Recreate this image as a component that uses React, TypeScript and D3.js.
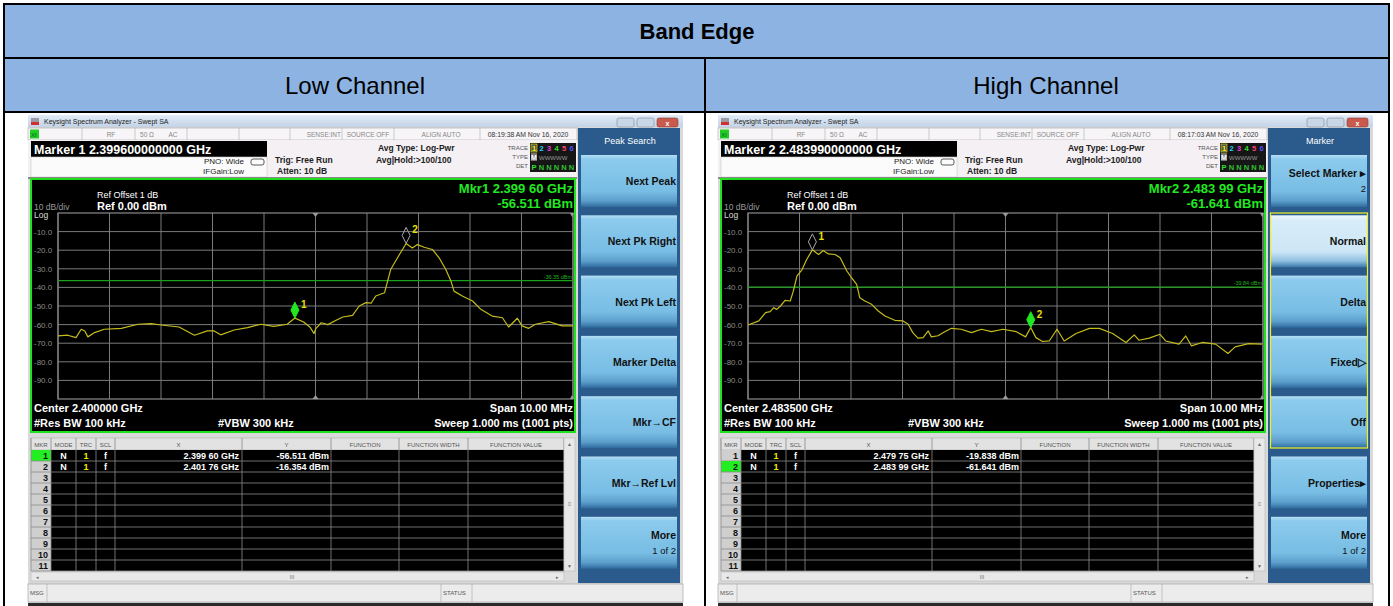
import React from 'react';
import * as d3 from 'd3';

const FONT = "'Liberation Sans', Arial, Helvetica, sans-serif";

// trace samples: [offset from centre in MHz, level in dBm]
const lowTrace: [number, number][] = [
  [-5.0, -66.1], [-4.81, -65.7], [-4.65, -67.0], [-4.55, -62.5], [-4.48, -63.4], [-4.42, -66.6],
  [-4.29, -64.3], [-4.1, -62.5], [-3.77, -62.0], [-3.45, -59.8], [-3.19, -59.5], [-3.0, -60.2],
  [-2.65, -61.3], [-2.35, -65.7], [-2.1, -63.4], [-1.97, -63.4], [-1.84, -65.5], [-1.58, -62.9],
  [-1.32, -61.6], [-1.06, -59.8], [-0.81, -61.0], [-0.55, -59.8], [-0.4, -56.5], [-0.23, -58.6],
  [-0.1, -61.6], [-0.03, -64.8], [0.01, -62], [0.11, -59], [0.24, -60], [0.4, -57.7], [0.53, -55.9],
  [0.72, -55.0], [0.85, -50], [0.98, -48.2], [1.08, -48.5], [1.17, -44.6], [1.34, -42.9], [1.4, -36.6],
  [1.46, -30.4], [1.63, -22.3], [1.76, -16.4], [1.88, -18.8], [1.98, -17.0], [2.11, -18.4], [2.27, -19.6],
  [2.4, -24.1], [2.53, -30.4], [2.63, -36.6], [2.69, -42], [2.85, -44.6], [3.05, -47.3], [3.21, -51.8],
  [3.43, -55.4], [3.63, -56.3], [3.75, -61.3], [3.92, -56.6], [4.01, -60.7], [4.14, -62], [4.27, -59.8],
  [4.53, -58.4], [4.79, -60.7], [5.0, -60.7],
];

const highTrace: [number, number][] = [
  [-5.0, -60.2], [-4.79, -58], [-4.66, -53.6], [-4.57, -53], [-4.5, -50.9], [-4.44, -51.8], [-4.37, -50],
  [-4.28, -47], [-4.18, -47.3], [-4.12, -42], [-4.05, -33.9], [-3.95, -30.4], [-3.86, -25], [-3.75, -19.8],
  [-3.63, -22.3], [-3.54, -20.2], [-3.44, -22], [-3.31, -22.3], [-3.21, -24.1], [-3.08, -31.2], [-2.99, -34.8],
  [-2.89, -38.4], [-2.83, -45.5], [-2.73, -47.3], [-2.6, -49.1], [-2.47, -52.7], [-2.34, -55.4], [-2.15, -57.7],
  [-1.99, -58], [-1.89, -59.8], [-1.8, -64.3], [-1.7, -67.3], [-1.6, -67], [-1.5, -63.4], [-1.44, -66.6],
  [-1.31, -66], [-1.18, -63.8], [-1.05, -62], [-0.86, -62.5], [-0.66, -64.3], [-0.47, -62.5], [-0.27, -63.8],
  [-0.05, -62.5], [0.21, -63.8], [0.39, -66.6], [0.49, -61.6], [0.59, -67], [0.72, -69.1], [0.85, -68.8],
  [1.0, -62.5], [1.14, -68.8], [1.37, -64.8], [1.63, -62], [1.82, -62], [2.08, -64.8], [2.34, -69.6],
  [2.5, -65.5], [2.59, -68.4], [2.79, -67.3], [3.0, -65.2], [3.11, -68.8], [3.37, -70.5], [3.5, -66.1],
  [3.61, -71.4], [3.82, -69.6], [4.08, -70.5], [4.32, -75.5], [4.46, -72], [4.72, -70.2], [4.98, -70.5],
];

const dbTicks = [-10, -20, -30, -40, -50, -60, -70, -80, -90];
const freqDivs = [-5, -4, -3, -2, -1, 0, 1, 2, 3, 4, 5];

const lowMarkerOffsets = [-0.4, 1.76];
const lowMarkerLevels = [-56.511, -16.354];
const lowMarkerX = ['2.399 60 GHz', '2.401 76 GHz'];
const lowMarkerY = ['-56.511 dBm', '-16.354 dBm'];

const highMarkerOffsets = [-3.75, 0.49];
const highMarkerLevels = [-19.838, -61.641];
const highMarkerX = ['2.479 75 GHz', '2.483 99 GHz'];
const highMarkerY = ['-19.838 dBm', '-61.641 dBm'];

const tableHeaders = ['MKR', 'MODE', 'TRC', 'SCL', 'X', 'Y', 'FUNCTION', 'FUNCTION WIDTH', 'FUNCTION VALUE'];
const tableRows = [1, 2, 3, 4, 5, 6, 7, 8, 9, 10, 11];

const lowSoftkeys = [['Next Peak'], ['Next Pk Right'], ['Next Pk Left'], ['Marker Delta'], ['Mkr\u2192CF'], ['Mkr\u2192Ref Lvl'], ['More', '1 of 2']];
const highSoftkeys = [['Select Marker \u25B8', '2'], ['Normal'], ['Delta'], ['Fixed\u25B7'], ['Off'], ['Properties\u25B8'], ['More', '1 of 2']];

const traceDigits = ['1', '2', '3', '4', '5', '6'];
const traceDigitColors = ['#f4f000', '#22d0ff', '#e040e0', '#30e030', '#ff4070', '#5050ff'];

const colEdges = [31, 51, 76, 96, 115, 242, 331, 399, 468, 564];

interface ScreenProps {
  dx: number;
  clock: string;
  markerTitle: string;
  mkrLabel: string;
  mkrLevel: string;
  centerLabel: string;
  displayLine: number;
  trace: [number, number][];
  markerOffsets: number[];
  markerLevels: number[];
  markerX: string[];
  markerY: string[];
  active: number;
  menuTitle: string;
  softkeys: string[][];
  selectedKey: number;
  groupBox: boolean;
}

function Screen(p: ScreenProps) {
  const x = d3.scaleLinear().domain([-5, 5]).range([58, 573]);
  const y = d3.scaleLinear().domain([-100, 0]).range([399, 213]);
  const line = d3.line<[number, number]>().x(d => x(d[0])).y(d => y(d[1]));
  const rowY = (i: number) => 450 + 11 * i;

  return (
    <g transform={`translate(${p.dx},0)`} fontFamily={FONT}>
      {/* window frame */}
      <rect x={28} y={115} width={655} height={491} fill="#d9d9d9" />
      <rect x={28} y={115} width={655} height={12} fill="url(#titlebar)" />
      <rect x={31} y={118} width={8} height={7} fill="#9a9aa0" />
      <rect x={31} y={122} width={8} height={3} fill="#d03030" />
      <text x={44} y={124} fontSize={7} fill="#222">Keysight Spectrum Analyzer - Swept SA</text>
      <rect x={617} y={118} width={17} height={9} rx={2} fill="#c9d6e6" stroke="#7b8ca3" strokeWidth={0.6} />
      <rect x={637} y={118} width={17} height={9} rx={2} fill="#c9d6e6" stroke="#7b8ca3" strokeWidth={0.6} />
      <rect x={657} y={118} width={21} height={9} rx={2} fill="#c85a4e" stroke="#8c3a30" strokeWidth={0.6} />
      <text x={667.5} y={125.5} fontSize={7} fill="#fff" textAnchor="middle" fontWeight="bold">x</text>

      {/* status line */}
      <rect x={28} y={128} width={549} height={12} fill="#f7f5f7" stroke="#a8a8a8" strokeWidth={0.6} />
      <rect x={30} y={129.5} width={9} height={9} fill="#22cc22" />
      <text x={31} y={137} fontSize={6} fill="#063">XI</text>
      {[82, 135, 187, 239, 290, 342, 394, 480].map(v => (
        <line key={v} x1={v} x2={v} y1={128} y2={140} stroke="#b0b0b0" strokeWidth={0.6} />
      ))}
      <text x={111} y={137} fontSize={6.5} fill="#888" textAnchor="middle">RF</text>
      <text x={147} y={137} fontSize={6.5} fill="#888" textAnchor="middle">50 Ω</text>
      <text x={173} y={137} fontSize={6.5} fill="#888" textAnchor="middle">AC</text>
      <text x={341} y={137} fontSize={6.5} fill="#888" textAnchor="end">SENSE:INT</text>
      <text x={368} y={137} fontSize={6.5} fill="#888" textAnchor="middle">SOURCE OFF</text>
      <text x={441} y={137} fontSize={6.5} fill="#888" textAnchor="middle">ALIGN AUTO</text>
      <text x={528} y={137} fontSize={6.8} fill="#333" textAnchor="middle">{p.clock}</text>

      {/* settings block */}
      <rect x={28} y={140} width={549} height={38} fill="#f4f0f4" />
      <rect x={31} y={141} width={236} height={16} fill="#000" />
      <text x={34} y={154} fontSize={12.5} fontWeight="bold" fill="#fff">{p.markerTitle}</text>
      <rect x={31} y={157} width={236} height={20} fill="#fbfbfb" stroke="#c8c8c8" strokeWidth={0.6} />
      <text x={244} y={164} fontSize={8} fill="#222" textAnchor="end">PNO: Wide</text>
      <text x={244} y={174} fontSize={8} fill="#222" textAnchor="end">IFGain:Low</text>
      <rect x={251} y={159} width={13} height={6} rx={2} fill="none" stroke="#333" strokeWidth={0.8} />
      <text x={275} y={163} fontSize={8.5} fontWeight="bold" fill="#222">Trig: Free Run</text>
      <text x={277} y={174} fontSize={8.5} fontWeight="bold" fill="#222">Atten: 10 dB</text>
      <text x={378} y={151} fontSize={8.5} fontWeight="bold" fill="#222">Avg Type: Log-Pwr</text>
      <text x={376} y={163} fontSize={8.5} fontWeight="bold" fill="#222">Avg|Hold:&gt;100/100</text>
      <text x={528} y={150} fontSize={6} fill="#555" textAnchor="end">TRACE</text>
      <text x={528} y={159} fontSize={6} fill="#555" textAnchor="end">TYPE</text>
      <text x={528} y={168} fontSize={6} fill="#555" textAnchor="end">DET</text>
      <rect x={530} y={143} width={46} height={29} fill="#161616" />
      <rect x={531} y={144} width={6} height={8} fill="#555" stroke="#f4f000" strokeWidth={0.6} />
      {traceDigits.map((d, i) => (
        <text key={d} x={534 + i * 7.5} y={151} fontSize={7.5} fontWeight="bold" fill={traceDigitColors[i]} textAnchor="middle">{d}</text>
      ))}
      <rect x={531} y={153} width={6} height={8} fill="#777" />
      <text x={534} y={160} fontSize={7} fontWeight="bold" fill="#fff" textAnchor="middle">M</text>
      <text x={539} y={160} fontSize={6} fill="#999">WWWWW</text>
      <text x={534} y={170} fontSize={7.5} fontWeight="bold" fill="#30e030" textAnchor="middle">P</text>
      {[1, 2, 3, 4, 5].map(i => (
        <text key={i} x={534 + i * 7.5} y={170} fontSize={7.5} fontWeight="bold" fill="#30c030" textAnchor="middle">N</text>
      ))}

      {/* graticule display */}
      <rect x={28} y={177} width={549} height={2} fill="#8a8a8a" />
      <rect x={31} y={179} width={544} height={253} fill="#000" stroke="#1ee01e" strokeWidth={2} />
      <text x={97} y={198} fontSize={9} fill="#fff">Ref Offset 1 dB</text>
      <text x={97} y={210} fontSize={11} fontWeight="bold" fill="#fff">Ref 0.00 dBm</text>
      <text x={34} y={210} fontSize={8.5} fill="#9a9a9a">10 dB/div</text>
      <text x={34} y={218} fontSize={8.5} fill="#ddd">Log</text>
      <text x={573} y={193} fontSize={13} fontWeight="bold" fill="#22e822" textAnchor="end">{p.mkrLabel}</text>
      <text x={573} y={208} fontSize={13} fontWeight="bold" fill="#22e822" textAnchor="end">{p.mkrLevel}</text>

      {dbTicks.map(t => (
        <g key={t}>
          <line x1={x(-5)} x2={x(5)} y1={y(t)} y2={y(t)} stroke="#7a7a7a" strokeWidth={1} />
          <text x={34} y={y(t) + 3} fontSize={8} fill="#8c8c8c">{t.toFixed(1)}</text>
        </g>
      ))}
      {freqDivs.map(f => (
        <line key={f} x1={x(f)} x2={x(f)} y1={y(0)} y2={y(-100)} stroke="#7a7a7a" strokeWidth={1} />
      ))}
      <rect x={x(-5)} y={y(0)} width={x(5) - x(-5)} height={y(-100) - y(0)} fill="none" stroke="#8a8a8a" strokeWidth={1.2} />
      <path d={`M${x(0) - 3},${y(0)}L${x(0) + 3},${y(0)}L${x(0)},${y(0) + 4}Z`} fill="#9a9a9a" />
      <path d={`M${x(0) - 3},${y(-100)}L${x(0) + 3},${y(-100)}L${x(0)},${y(-100) - 4}Z`} fill="#9a9a9a" />
      <path d={`M${x(5) - 3},${y(0)}L${x(5) + 1},${y(0)}L${x(5) - 1},${y(0) + 4}Z`} fill="#9a9a9a" />
      <path d={`M${x(5) - 3},${y(-100)}L${x(5) + 1},${y(-100)}L${x(5) - 1},${y(-100) - 4}Z`} fill="#9a9a9a" />

      <line x1={x(-5)} x2={x(5)} y1={y(p.displayLine)} y2={y(p.displayLine)} stroke="#1aa01a" strokeWidth={1.2} />
      <text x={572} y={y(p.displayLine) - 2} fontSize={5.5} fill="#20b020" textAnchor="end">{`${p.displayLine.toFixed(2)} dBm`}</text>

      <path d={line(p.trace) || ''} fill="none" stroke="#c4bc1c" strokeWidth={1.2} strokeLinejoin="round" />

      {p.markerOffsets.map((f, i) => {
        const mx = x(f);
        const my = y(p.markerLevels[i]);
        const isActive = i === p.active;
        return (
          <g key={i}>
            <path d={`M${mx},${my}L${mx - 4},${my - 8}L${mx},${my - 16}L${mx + 4},${my - 8}Z`}
              fill={isActive ? '#22e822' : 'none'} stroke={isActive ? '#22e822' : '#a8a8a8'} strokeWidth={1} />
            <text x={mx + 6} y={my - 10} fontSize={10} fontWeight="bold" fill="#e8e000">{i + 1}</text>
          </g>
        );
      })}

      <text x={34} y={412} fontSize={11} fontWeight="bold" fill="#fff">{p.centerLabel}</text>
      <text x={34} y={427} fontSize={11} fontWeight="bold" fill="#fff">#Res BW 100 kHz</text>
      <text x={218} y={427} fontSize={11} fontWeight="bold" fill="#fff">#VBW 300 kHz</text>
      <text x={573} y={412} fontSize={11} fontWeight="bold" fill="#fff" textAnchor="end">Span 10.00 MHz</text>
      <text x={573} y={427} fontSize={11} fontWeight="bold" fill="#fff" textAnchor="end">Sweep  1.000 ms (1001 pts)</text>

      {/* marker table */}
      <rect x={31} y={438} width={533} height={12} fill="#e2e2e2" stroke="#b0b0b0" strokeWidth={0.6} />
      {tableHeaders.map((h, i) => (
        <text key={h} x={(colEdges[i] + colEdges[i + 1]) / 2} y={446.5} fontSize={6} fill="#555" textAnchor="middle">{h}</text>
      ))}
      <rect x={31} y={450} width={533} height={121} fill="#000" />
      <rect x={31} y={450} width={20} height={121} fill="#cfcfcf" />
      {tableRows.map((r, i) => (
        <g key={r}>
          {i === p.active && <rect x={31} y={rowY(i)} width={20} height={11} fill="#22ee22" />}
          <line x1={31} x2={564} y1={rowY(i) + 11} y2={rowY(i) + 11} stroke="#8a8a8a" strokeWidth={0.8} />
          <text x={48} y={rowY(i) + 9} fontSize={9} fontWeight="bold" fill="#111" textAnchor="end">{r}</text>
        </g>
      ))}
      {colEdges.map(c => (
        <line key={c} x1={c} x2={c} y1={438} y2={571} stroke="#8a8a8a" strokeWidth={0.8} />
      ))}
      {p.markerX.map((v, i) => (
        <g key={i} fontSize={9} fontWeight="bold">
          <text x={63.5} y={rowY(i) + 9} fill="#fff" textAnchor="middle">N</text>
          <text x={86} y={rowY(i) + 9} fill="#f0e800" textAnchor="middle">1</text>
          <text x={105.5} y={rowY(i) + 9} fill="#fff" textAnchor="middle">f</text>
          <text x={239} y={rowY(i) + 9} fill="#fff" textAnchor="end">{v}</text>
          <text x={329} y={rowY(i) + 9} fill="#fff" textAnchor="end">{p.markerY[i]}</text>
        </g>
      ))}
      <rect x={564} y={438} width={11} height={133} fill="#e8e8e8" stroke="#b8b8b8" strokeWidth={0.6} />
      <text x={569.5} y={446} fontSize={5} fill="#666" textAnchor="middle">▲</text>
      <text x={569.5} y={506} fontSize={6} fill="#888" textAnchor="middle">≡</text>
      <text x={569.5} y={568} fontSize={5} fill="#666" textAnchor="middle">▼</text>
      <rect x={31} y={572} width={533} height={9} fill="#e8e8e8" stroke="#b8b8b8" strokeWidth={0.6} />
      <text x={36} y={579} fontSize={5} fill="#666">◂</text>
      <text x={292} y={579} fontSize={5.5} fill="#777" textAnchor="middle">III</text>
      <text x={556} y={579} fontSize={5} fill="#666">▸</text>

      {/* status bar */}
      <rect x={28} y={584} width={655} height={18} fill="#ececec" stroke="#9c9c9c" strokeWidth={0.6} />
      <line x1={47} x2={47} y1={584} y2={602} stroke="#aaa" strokeWidth={0.6} />
      <line x1={441} x2={441} y1={584} y2={602} stroke="#aaa" strokeWidth={0.6} />
      <line x1={472} x2={472} y1={584} y2={602} stroke="#aaa" strokeWidth={0.6} />
      <text x={30} y={595} fontSize={6} fill="#555">MSG</text>
      <text x={443} y={595} fontSize={6} fill="#555">STATUS</text>
      <rect x={28} y={603} width={655} height={3} fill="#2a2a2a" />

      {/* softkey panel */}
      <rect x={578} y={128} width={102} height={455} fill="#2a5b8c" />
      <text x={630} y={144} fontSize={9} fill="#fff" textAnchor="middle">{p.menuTitle}</text>
      {p.softkeys.map((k, i) => {
        const by = 155 + i * 60.3;
        const sel = i === p.selectedKey;
        return (
          <g key={i}>
            <rect x={581} y={by} width={96} height={52} fill={sel ? 'url(#keySel)' : 'url(#key)'} />
            {k.length === 1 ? (
              <text x={676} y={by + 30} fontSize={10.5} fontWeight="bold" fill="#111" textAnchor="end">{k[0]}</text>
            ) : (
              <>
                <text x={676} y={by + 22} fontSize={10.5} fontWeight="bold" fill="#111" textAnchor="end">{k[0]}</text>
                <text x={676} y={by + 37} fontSize={9.5} fill="#111" textAnchor="end">{k[1]}</text>
              </>
            )}
          </g>
        );
      })}
      {p.groupBox && <rect x={580.5} y={213} width={97} height={235} fill="none" stroke="#f0f020" strokeWidth={1.2} />}
    </g>
  );
}

export default function App() {
  return (
    <div style={{ position: 'absolute', left: 0, top: 0 }}>
      <svg width={1393} height={606} style={{ display: 'block' }}>
        <defs>
          <linearGradient id="titlebar" x1="0" y1="0" x2="0" y2="1">
            <stop offset="0%" stopColor="#e2ebf6" />
            <stop offset="100%" stopColor="#c3d3e7" />
          </linearGradient>
          <linearGradient id="key" x1="0" y1="0" x2="0" y2="1">
            <stop offset="0%" stopColor="#b5def4" />
            <stop offset="8%" stopColor="#8ccbed" />
            <stop offset="70%" stopColor="#78bde4" />
            <stop offset="88%" stopColor="#5d9fcc" />
            <stop offset="100%" stopColor="#2e6a9e" />
          </linearGradient>
          <linearGradient id="keySel" x1="0" y1="0" x2="0" y2="1">
            <stop offset="0%" stopColor="#eef7fd" />
            <stop offset="10%" stopColor="#d8ecf9" />
            <stop offset="70%" stopColor="#cde6f6" />
            <stop offset="88%" stopColor="#8fbfe0" />
            <stop offset="100%" stopColor="#3a76a8" />
          </linearGradient>
        </defs>
        <rect x={0} y={0} width={1393} height={606} fill="#fff" />
        <rect x={4} y={4} width={1385} height={108} fill="#8db3e2" />
        <text x={697} y={39} fontFamily={FONT} fontSize={22} fontWeight="bold" textAnchor="middle" fill="#000">Band Edge</text>
        <text x={355} y={94} fontFamily={FONT} fontSize={24} textAnchor="middle" fill="#000">Low Channel</text>
        <text x={1046} y={94} fontFamily={FONT} fontSize={24} textAnchor="middle" fill="#000">High Channel</text>

        <Screen dx={0} clock="08:19:38 AM Nov 16, 2020" markerTitle="Marker 1 2.399600000000 GHz"
          mkrLabel="Mkr1 2.399 60 GHz" mkrLevel="-56.511 dBm" centerLabel="Center 2.400000 GHz"
          displayLine={-36.35} trace={lowTrace} markerOffsets={lowMarkerOffsets} markerLevels={lowMarkerLevels}
          markerX={lowMarkerX} markerY={lowMarkerY} active={0} menuTitle="Peak Search"
          softkeys={lowSoftkeys} selectedKey={-1} groupBox={false} />
        <Screen dx={690} clock="08:17:03 AM Nov 16, 2020" markerTitle="Marker 2 2.483990000000 GHz"
          mkrLabel="Mkr2 2.483 99 GHz" mkrLevel="-61.641 dBm" centerLabel="Center 2.483500 GHz"
          displayLine={-39.84} trace={highTrace} markerOffsets={highMarkerOffsets} markerLevels={highMarkerLevels}
          markerX={highMarkerX} markerY={highMarkerY} active={1} menuTitle="Marker"
          softkeys={highSoftkeys} selectedKey={1} groupBox={true} />

        {/* table rules */}
        <g stroke="#000" strokeWidth={2} fill="none">
          <rect x={4} y={4} width={1385} height={610} />
          <line x1={4} x2={1389} y1={58} y2={58} />
          <line x1={4} x2={1389} y1={112} y2={112} />
          <line x1={705} x2={705} y1={58} y2={606} />
        </g>
      </svg>
    </div>
  );
}
